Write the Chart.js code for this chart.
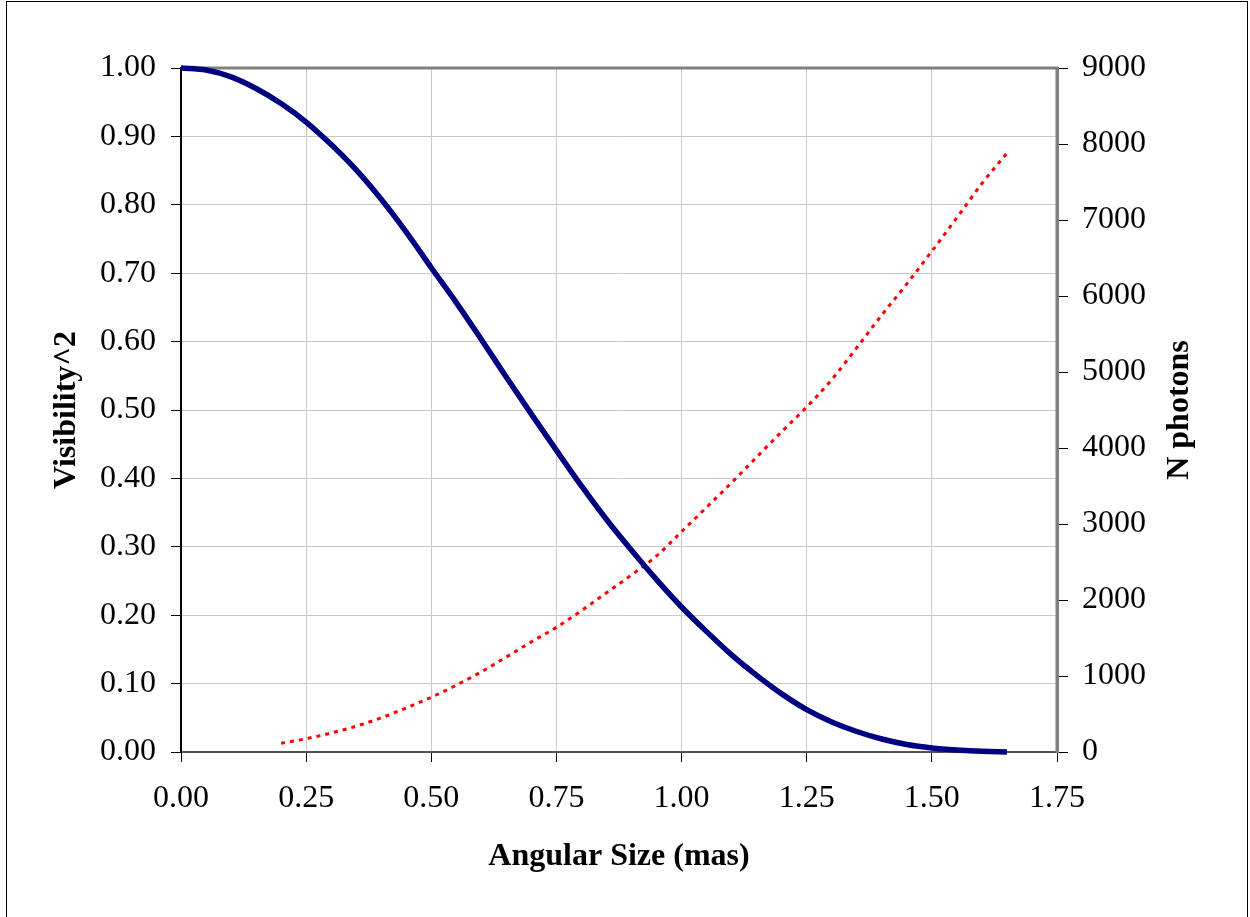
<!DOCTYPE html>
<html>
<head>
<meta charset="utf-8">
<script src="https://cdn.jsdelivr.net/npm/chart.js@4/dist/chart.umd.min.js"></script>
<style>
  html, body { margin: 0; padding: 0; background: #fff; overflow: hidden; }
  #wrap { position: relative; width: 1250px; height: 917px; }
  #frame { position: absolute; left: 6px; top: 1px; width: 1240px; height: 940px; border: 1px solid #000; pointer-events: none; }
  canvas { position: absolute; left: 0; top: 0; }
</style>
</head>
<body>
<div id="wrap">
  <canvas id="visChart" width="1250" height="917"></canvas>
  <div id="frame"></div>
</div>
<script>
// angular size (mas) for the visibility curve
const sizes = [0, 0.05, 0.10, 0.15, 0.20, 0.25, 0.30, 0.35, 0.40, 0.45, 0.50, 0.55, 0.60, 0.65, 0.70, 0.75, 0.80,
  0.85, 0.90, 0.95, 1.00, 1.05, 1.10, 1.15, 1.20, 1.25, 1.30, 1.35, 1.40, 1.45, 1.50, 1.55, 1.60, 1.65];
const visibility2 = [1.000, 0.997, 0.987, 0.970, 0.948, 0.921, 0.888, 0.851, 0.808, 0.760, 0.708, 0.657, 0.603,
  0.548, 0.494, 0.441, 0.389, 0.340, 0.295, 0.252, 0.212, 0.176, 0.142, 0.112, 0.085, 0.062, 0.044, 0.030,
  0.019, 0.011, 0.006, 0.003, 0.001, 0.000];

// photon counts
const photonSizes = [0.20, 0.25, 0.30, 0.35, 0.40, 0.45, 0.50, 0.55, 0.60, 0.65, 0.70, 0.75, 0.80, 0.85, 0.90,
  0.95, 1.00, 1.05, 1.10, 1.15, 1.20, 1.25, 1.30, 1.35, 1.40, 1.45, 1.50, 1.55, 1.60, 1.65];
const photons = [114, 175, 250, 340, 450, 580, 720, 880, 1055, 1250, 1450, 1640, 1860, 2095, 2330, 2580, 2900,
  3220, 3545, 3880, 4215, 4540, 4900, 5320, 5750, 6160, 6590, 7030, 7480, 7880];

const xTicks = [0, 0.25, 0.5, 0.75, 1.0, 1.25, 1.5, 1.75];

const serif = "'Liberation Serif', 'Times New Roman', serif";

function pairs(xs, ys) {
  return xs.map((x, i) => ({ x: x, y: ys[i] }));
}

// plot frame (top + right) and the right axis title, which reads bottom to top
const framePlugin = {
  id: 'framePlugin',
  beforeDatasetsDraw(chart) {
    const a = chart.chartArea;
    const ctx = chart.ctx;
    ctx.save();
    ctx.strokeStyle = '#808080';
    ctx.lineWidth = 3;
    ctx.beginPath();
    ctx.moveTo(a.left, a.top);
    ctx.lineTo(a.right, a.top);
    ctx.lineTo(a.right, a.bottom);
    ctx.stroke();
    ctx.restore();
  },
  afterDraw(chart) {
    const a = chart.chartArea;
    const ctx = chart.ctx;
    ctx.save();
    ctx.translate(1180, (a.top + a.bottom) / 2);
    ctx.rotate(-Math.PI / 2);
    ctx.font = 'bold 32px ' + serif;
    ctx.fillStyle = '#000';
    ctx.textAlign = 'center';
    ctx.textBaseline = 'middle';
    ctx.fillText('N photons', 0, 0);
    ctx.restore();
  }
};

const ctx = document.getElementById('visChart').getContext('2d');
new Chart(ctx, {
  type: 'scatter',
  data: {
    datasets: [{
      label: 'Visibility^2',
      data: pairs(sizes, visibility2),
      showLine: true,
      borderColor: '#000080',
      borderWidth: 5.5,
      pointRadius: 0,
      cubicInterpolationMode: 'monotone',
      clip: 6,
      yAxisID: 'y'
    }, {
      label: 'N photons',
      data: pairs(photonSizes, photons),
      showLine: true,
      borderColor: '#ff0000',
      borderWidth: 3,
      borderDash: [4, 5],
      pointRadius: 0,
      cubicInterpolationMode: 'monotone',
      yAxisID: 'y2'
    }]
  },
  options: {
    responsive: false,
    animation: false,
    layout: { padding: { top: 68, left: 0, right: 0, bottom: 0 } },
    plugins: {
      legend: { display: false },
      tooltip: { enabled: false }
    },
    scales: {
      x: {
        type: 'linear',
        min: 0,
        max: 1.75,
        afterFit: function (scale) { scale.height = 165; },
        afterBuildTicks: function (scale) {
          scale.ticks = xTicks.map(v => ({ value: v }));
        },
        ticks: {
          color: '#000',
          padding: 17,
          maxRotation: 0,
          font: { family: serif, size: 32 },
          callback: function (v) { return Number(v).toFixed(2); }
        },
        grid: { color: '#c8c8c8', lineWidth: 1, tickLength: 10, tickColor: '#000' },
        border: { color: '#555', width: 2 },
        title: {
          display: true,
          text: 'Angular Size (mas)',
          color: '#000',
          padding: 41,
          font: { family: serif, size: 32, weight: 'bold' }
        }
      },
      y: {
        position: 'left',
        min: 0,
        max: 1,
        afterFit: function (scale) { scale.width = 181; },
        ticks: {
          stepSize: 0.1,
          color: '#000',
          padding: 15,
          font: { family: serif, size: 32 },
          callback: function (v) { return Number(v).toFixed(2); }
        },
        grid: { color: '#c8c8c8', lineWidth: 1, tickLength: 10, tickColor: '#000' },
        border: { color: '#000', width: 2 },
        title: {
          display: true,
          text: 'Visibility^2',
          color: '#000',
          padding: 48,
          font: { family: serif, size: 32, weight: 'bold' }
        }
      },
      y2: {
        position: 'right',
        min: 0,
        max: 9000,
        afterFit: function (scale) { scale.width = 193; },
        ticks: {
          stepSize: 1000,
          color: '#000',
          padding: 14,
          font: { family: serif, size: 32 },
          callback: function (v) { return String(v); }
        },
        grid: { drawOnChartArea: false, tickLength: 11, tickColor: '#000' },
        border: { color: '#808080', width: 3 }
      }
    }
  },
  plugins: [framePlugin]
});
</script>
</body>
</html>
